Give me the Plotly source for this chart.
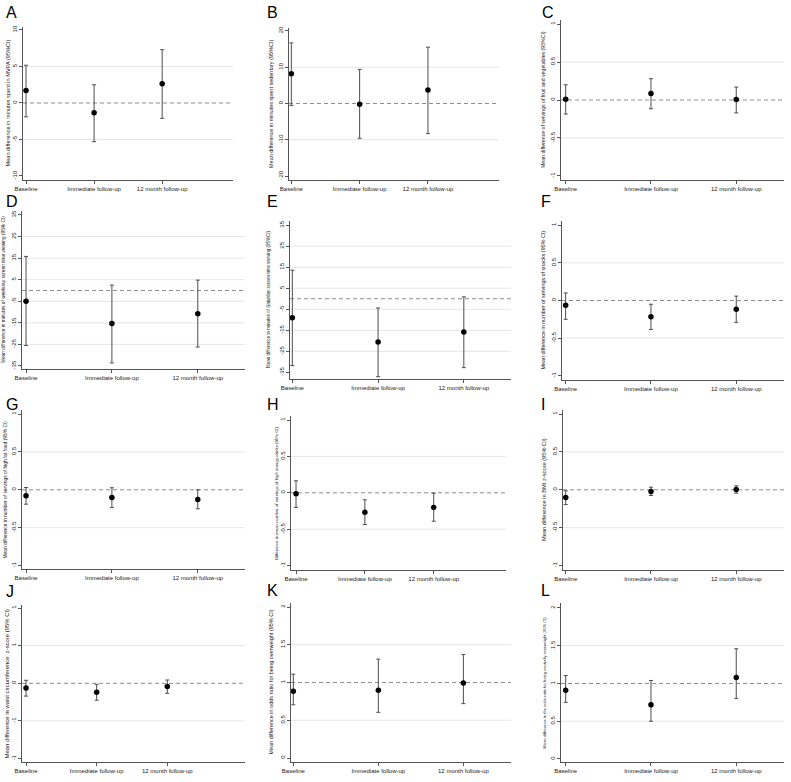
import plotly.graph_objects as go

W, H = 791, 782

periods = ["Baseline", "Immediate follow-up", "12 month follow-up"]
letters = ["A", "B", "C", "D", "E", "F", "G", "H", "I", "J", "K", "L"]

y_titles = [
    "Mean difference in minutes spent in MVPA (95%CI)",
    "Mean difference in minutes spent sedentary (95%CI)",
    "Mean difference of servings of fruit and vegetables (95%CI)",
    "Mean difference in minutes of weekday screen time viewing (95% CI)",
    "Mean difference in minutes of Saturday screen-time viewing (95%CI)",
    "Mean difference in number of servings of snacks (95% CI)",
    "Mean difference in number of servings of high fat food (95% CI)",
    "Difference in mean number of servings of high energy drinks (95% CI)",
    "Mean difference in BMI z-score (95% CI)",
    "Mean difference in waist circumference  z-score (95% CI)",
    "Mean difference in odds ratio for being overweight (95% CI)",
    "Mean difference in the odds ratio for being centrally overweight (95% CI)",
]

# estimates and 95% CI per panel
mvpa_est = [1.7, -1.33, 2.65]
mvpa_lo = [-1.9, -5.3, -2.1]
mvpa_hi = [5.17, 2.5, 7.3]

sed_est = [8.2, -0.2, 3.7]
sed_lo = [-0.55, -9.6, -8.3]
sed_hi = [16.7, 9.4, 15.5]

fv_est = [0.01, 0.084, 0.005]
fv_lo = [-0.185, -0.115, -0.17]
fv_hi = [0.2, 0.28, 0.17]

wkday_est = [-5.0, -15.3, -10.8]
wkday_lo = [-25.5, -33.6, -26.2]
wkday_hi = [15.8, 2.5, 4.8]

sat_est = [-9.0, -20.6, -15.8]
sat_lo = [-31.8, -37.1, -32.8]
sat_hi = [13.6, -4.4, 0.9]

snack_est = [-0.062, -0.217, -0.115]
snack_lo = [-0.25, -0.385, -0.29]
snack_hi = [0.10, -0.05, 0.058]

fat_est = [-0.08, -0.10, -0.128]
fat_lo = [-0.19, -0.235, -0.25]
fat_hi = [0.03, 0.027, 0.0]

drink_est = [-0.014, -0.266, -0.2]
drink_lo = [-0.2, -0.436, -0.39]
drink_hi = [0.165, -0.096, -0.005]

bmi_est = [-0.10, -0.022, 0.004]
bmi_lo = [-0.195, -0.075, -0.044]
bmi_hi = [-0.013, 0.035, 0.053]

waist_est = [-0.062, -0.12, -0.044]
waist_lo = [-0.17, -0.225, -0.133]
waist_hi = [0.04, -0.013, 0.044]

ow_est = [0.885, 0.898, 0.995]
ow_lo = [0.705, 0.605, 0.72]
ow_hi = [1.11, 1.31, 1.37]

cow_est = [0.91, 0.717, 1.08]
cow_lo = [0.75, 0.5, 0.80]
cow_hi = [1.105, 1.04, 1.46]

ticks_10 = [-10, -5, 0, 5, 10]
ticks_20 = [-20, -10, 0, 10, 20]
ticks_1 = [-1, -0.5, 0, 0.5, 1]
ticks_35 = [-35, -25, -15, -5, 5, 15, 25, 35]
ticks_or = [0, 0.5, 1, 1.5, 2]
ticktext_waist = ["-1", "-1", "0", "1", "1"]

ref_lines = [0, 0, 0, 0, 0, 0, 0, 0, 0, 0, 1, 1]

panels = [
    (mvpa_est, mvpa_lo, mvpa_hi, ticks_10, None),
    (sed_est, sed_lo, sed_hi, ticks_20, None),
    (fv_est, fv_lo, fv_hi, ticks_1, None),
    (wkday_est, wkday_lo, wkday_hi, ticks_35, None),
    (sat_est, sat_lo, sat_hi, ticks_35, None),
    (snack_est, snack_lo, snack_hi, ticks_1, None),
    (fat_est, fat_lo, fat_hi, ticks_1, None),
    (drink_est, drink_lo, drink_hi, ticks_1, None),
    (bmi_est, bmi_lo, bmi_hi, ticks_1, None),
    (waist_est, waist_lo, waist_hi, ticks_1, ticktext_waist),
    (ow_est, ow_lo, ow_hi, ticks_or, None),
    (cow_est, cow_lo, cow_hi, ticks_or, None),
]

# plot boxes in pixels: left, right, top, bottom (x-axis line)
boxes = [
    (23, 233, 27, 180), (289, 499, 28, 180), (561, 784, 20, 180),
    (22, 245, 211, 369), (290, 511, 221, 379), (562, 784, 221, 380),
    (22, 245, 410, 569), (291, 506, 416, 570), (563, 784, 410, 570),
    (22, 245, 605, 762), (291, 511, 603, 762), (561, 784, 603, 762),
]
y_ranges = [
    [-10.55, 10.41], [-21.1, 20.8], [-1.053, 1.053],
    [-36.4, 36.85], [-38.2, 37.0], [-1.057, 1.057],
    [-1.045, 1.053], [-1.06, 1.055], [-1.058, 1.053],
    [-1.045, 1.04], [-0.053, 2.053], [-0.04, 2.066],
]
x_ranges = [
    [0.956, 4.04], [0.966, 4.04], [0.945, 3.56],
    [0.953, 3.55], [0.973, 3.55], [0.957, 3.56],
    [0.953, 3.55], [0.927, 4.05], [0.968, 3.56],
    [0.943, 4.10], [0.973, 3.56], [0.945, 3.56],
]
title_sizes = [5.6, 5.5, 5.2, 4.8, 4.5, 5.4, 4.9, 4.3, 5.7, 5.9, 5.5, 4.1]
# horizontal distance (px) from y axis line to the centre of the y title
title_offsets = [15, 18, 18, 19, 21, 20, 17, 15, 19, 16, 21, 17]
letter_pos = [
    (4, 2), (265, 2), (540, 2),
    (4, 191), (265, 191), (539, 191),
    (4, 394), (265, 394), (539, 394),
    (4, 581), (265, 580), (539, 580),
]

FONT = "Liberation Sans, Arial, sans-serif"
AXIS_COL = "#555555"

fig = go.Figure()
layout = dict(
    width=W,
    height=H,
    margin=dict(l=0, r=0, t=0, b=0),
    paper_bgcolor="white",
    plot_bgcolor="white",
    showlegend=False,
    font=dict(family=FONT, color="#222222"),
    shapes=[],
    annotations=[],
)

for i, (est, lo, hi, tvals, ttext) in enumerate(panels):
    n = i + 1
    sfx = "" if n == 1 else str(n)
    x0, x1, yt, yb = boxes[i]
    xs = list(range(1, len(periods) + 1))

    fig.add_trace(
        go.Scatter(
            x=xs,
            y=est,
            mode="markers",
            marker=dict(color="black", size=5.5),
            error_y=dict(
                type="data",
                symmetric=False,
                array=[h - e for h, e in zip(hi, est)],
                arrayminus=[e - l for e, l in zip(est, lo)],
                color="#4d4d4d",
                thickness=1,
                width=2,
            ),
            xaxis="x" + sfx,
            yaxis="y" + sfx,
            cliponaxis=False,
        )
    )

    layout["xaxis" + sfx] = dict(
        domain=[x0 / W, x1 / W],
        anchor="y" + sfx,
        range=x_ranges[i],
        tickvals=xs,
        ticktext=periods,
        ticks="outside",
        ticklen=3,
        tickcolor=AXIS_COL,
        showline=True,
        linecolor=AXIS_COL,
        linewidth=1,
        showgrid=False,
        zeroline=False,
        automargin=False,
        tickfont=dict(size=6, family=FONT, color="#222222"),
        fixedrange=True,
    )
    layout["yaxis" + sfx] = dict(
        domain=[1 - yb / H, 1 - yt / H],
        anchor="x" + sfx,
        range=y_ranges[i],
        tickvals=tvals,
        ticktext=ttext if ttext else [f"{v:g}" for v in tvals],
        tickangle=-90,
        ticks="outside",
        ticklen=3,
        tickcolor=AXIS_COL,
        showline=True,
        linecolor=AXIS_COL,
        linewidth=1,
        showgrid=False,
        zeroline=False,
        automargin=False,
        tickfont=dict(size=6, family=FONT, color="#222222"),
        fixedrange=True,
    )

    # y title as rotated annotation, centred on the plot height
    layout["annotations"].append(
        dict(
            text=y_titles[i],
            xref="paper",
            yref="paper",
            x=(x0 - title_offsets[i]) / W,
            y=1 - (yt + yb) / 2 / H,
            xanchor="center",
            yanchor="middle",
            textangle=-90,
            showarrow=False,
            font=dict(size=title_sizes[i], family=FONT, color="#222222"),
        )
    )

    # light grid at interior ticks
    for v in tvals[1:-1]:
        if v == ref_lines[i]:
            continue
        layout["shapes"].append(
            dict(
                type="line",
                xref="x" + sfx + " domain",
                yref="y" + sfx,
                x0=0,
                x1=1,
                y0=v,
                y1=v,
                line=dict(color="#e6e6e6", width=1),
                layer="below",
            )
        )
    # dashed reference line
    layout["shapes"].append(
        dict(
            type="line",
            xref="x" + sfx + " domain",
            yref="y" + sfx,
            x0=0,
            x1=1,
            y0=ref_lines[i],
            y1=ref_lines[i],
            line=dict(color="#8c8c8c", width=1, dash="4px,3px"),
            layer="below",
        )
    )

    lx, ly = letter_pos[i]
    layout["annotations"].append(
        dict(
            text=letters[i],
            xref="paper",
            yref="paper",
            x=lx / W,
            y=1 - ly / H,
            xanchor="left",
            yanchor="top",
            showarrow=False,
            font=dict(size=16, family=FONT, color="black"),
        )
    )

fig.update_layout(**layout)
fig.write_html(
    "out.html",
    config={"displayModeBar": False},
    post_script="document.body.style.margin='0';document.body.style.overflow='hidden';",
)
